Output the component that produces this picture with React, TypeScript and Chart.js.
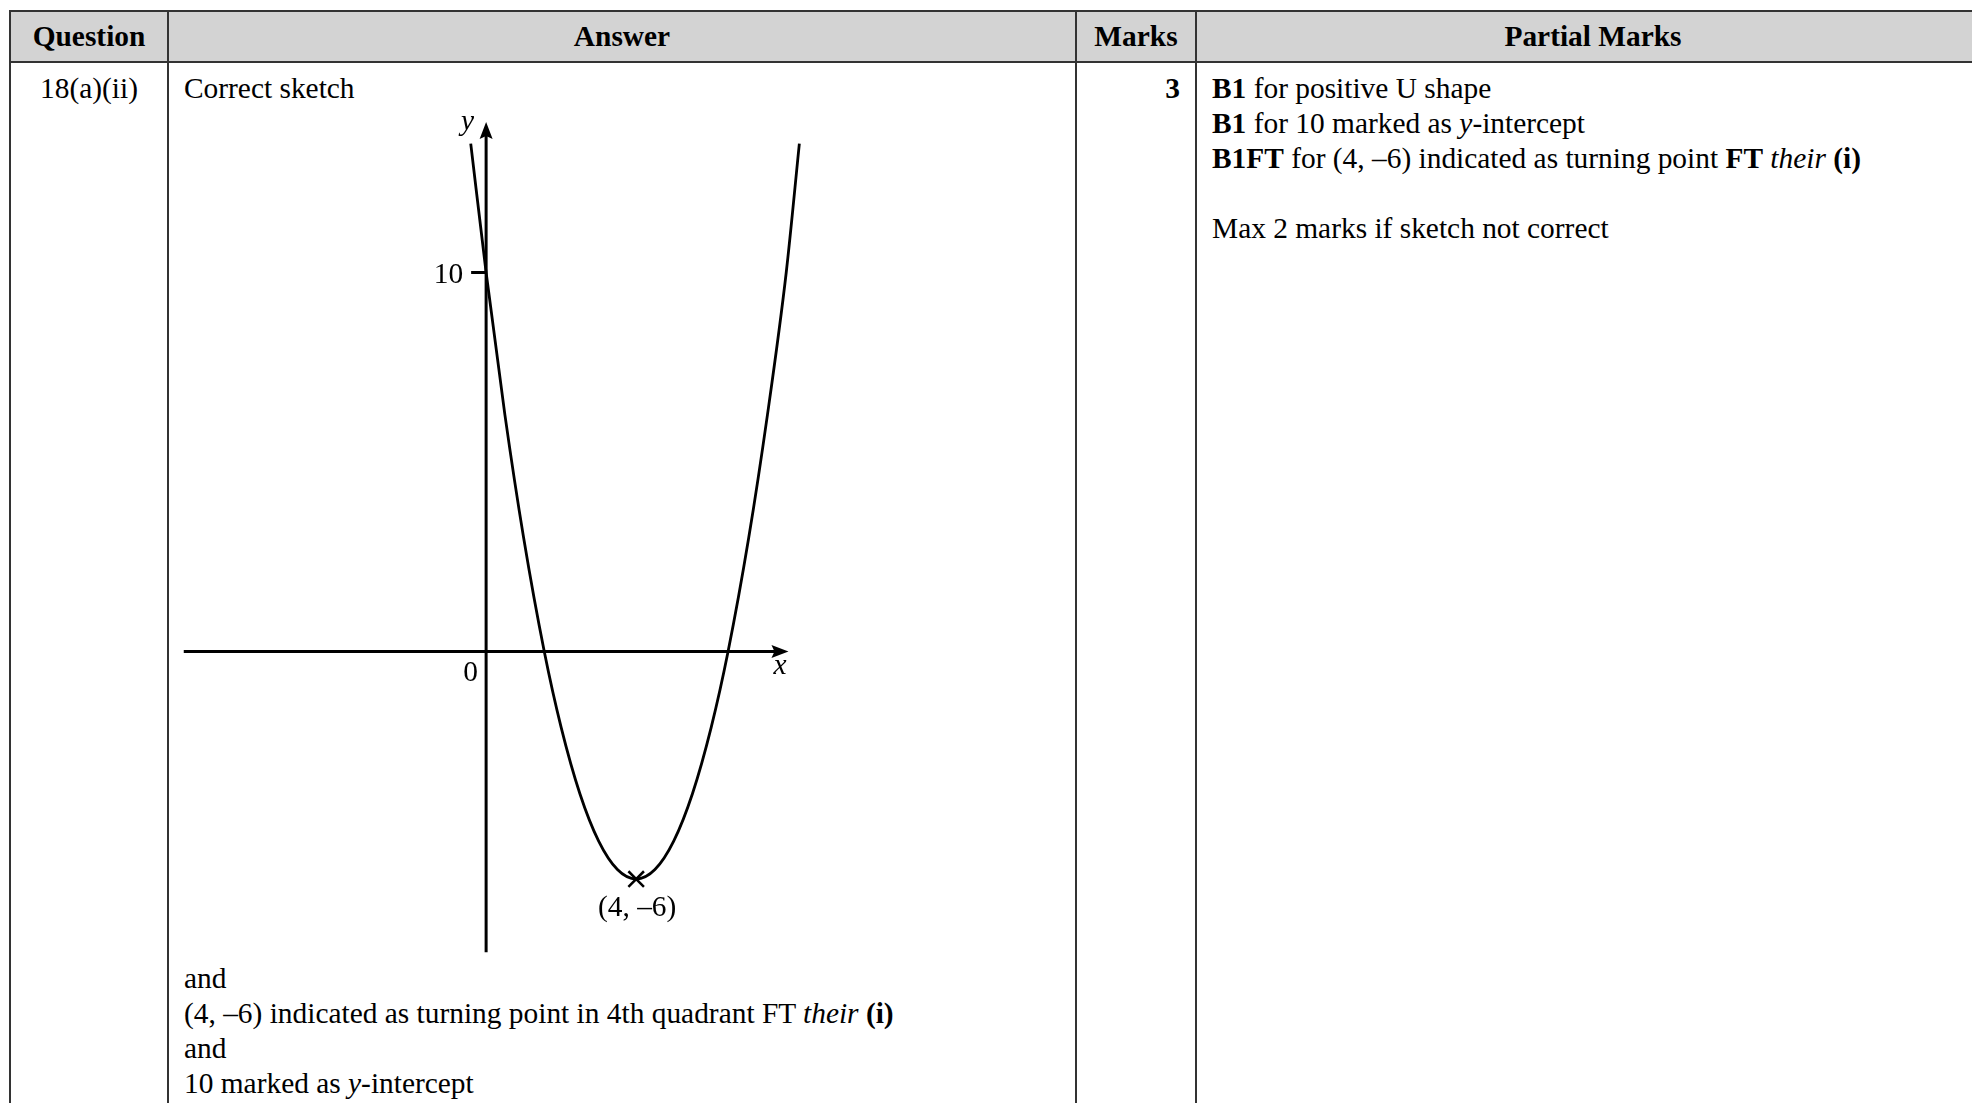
import React, { useEffect, useRef } from "react";
import { Chart, registerables } from "chart.js";

Chart.register(...registerables);

// ---- data ----
const curveX = [-0.41, 0, 0.5, 1, 1.55, 2, 2.5, 3, 3.5, 4, 4.5, 5, 5.5, 6, 6.45, 7, 7.5, 8, 8.35];
const curveY = [13.4, 10, 6.25, 3, 0, -2, -3.75, -5, -5.75, -6, -5.75, -5, -3.75, -2, 0, 3, 6.25, 10, 13.4];
const xAxisEnds = [-8.06, 8.06];
const yAxisEnds = [-7.93, 13.97];
const yTickValues = [10];
const yTickLabels = ["10"];
const turningPoint = [4, -6];
const turningLabel = "(4, –6)";
const originLabel = "0";
const xAxisName = "x";
const yAxisName = "y";
const viewX = [-8.4, 9.7];
const viewY = [-8.4, 14.55];

const headers = ["Question", "Answer", "Marks", "Partial Marks"];

const FONT = "'Liberation Serif', 'Times New Roman', serif";
const FONT_SIZE = 29.4;

function drawArrow(ctx: CanvasRenderingContext2D, tx: number, ty: number, dx: number, dy: number) {
  const len = 17;
  const half = 6.5;
  const notch = 3;
  const nx = -dy;
  const ny = dx;
  const bx = tx - dx * len;
  const by = ty - dy * len;
  ctx.beginPath();
  ctx.moveTo(tx, ty);
  ctx.lineTo(bx + nx * half, by + ny * half);
  ctx.lineTo(bx + dx * notch, by + dy * notch);
  ctx.lineTo(bx - nx * half, by - ny * half);
  ctx.closePath();
  ctx.fill();
}

const overlayPlugin = {
  id: "sketchOverlay",
  afterDatasetsDraw(chart: any) {
    const ctx: CanvasRenderingContext2D = chart.ctx;
    const xs = chart.scales.x;
    const ys = chart.scales.y;
    const px = (v: number) => xs.getPixelForValue(v);
    const py = (v: number) => ys.getPixelForValue(v);
    ctx.save();
    ctx.fillStyle = "#000";
    drawArrow(ctx, px(xAxisEnds[1]), py(0), 1, 0);
    drawArrow(ctx, px(0), py(yAxisEnds[1]), 0, -1);

    ctx.font = `${FONT_SIZE}px ${FONT}`;
    ctx.textBaseline = "alphabetic";
    ctx.textAlign = "right";
    yTickValues.forEach((v, i) => {
      ctx.fillText(yTickLabels[i], px(0) - 23, py(v) + 11);
    });
    ctx.textAlign = "center";
    ctx.fillText(originLabel, px(0) - 15.5, py(0) + 29);
    ctx.fillText(turningLabel, px(turningPoint[0]) + 1, py(turningPoint[1]) + 37);

    ctx.font = `italic ${FONT_SIZE}px ${FONT}`;
    ctx.fillText(yAxisName, px(0) - 18.5, py(yAxisEnds[1]) + 8.5);
    ctx.fillText(xAxisName, px(xAxisEnds[1]) - 8.5, py(0) + 22);
    ctx.restore();
  },
};

function Sketch() {
  const ref = useRef<HTMLCanvasElement>(null);
  useEffect(() => {
    if (!ref.current) return;
    const black = "#000";
    const chart = new Chart(ref.current, {
      type: "scatter",
      data: {
        datasets: [
          {
            data: [
              { x: xAxisEnds[0], y: 0 },
              { x: xAxisEnds[1] - 0.3, y: 0 },
            ],
            showLine: true,
            borderColor: black,
            borderWidth: 3,
            pointRadius: 0,
            clip: false,
          } as any,
          {
            data: [
              { x: 0, y: yAxisEnds[0] },
              { x: 0, y: yAxisEnds[1] - 0.3 },
            ],
            showLine: true,
            borderColor: black,
            borderWidth: 3,
            pointRadius: 0,
            clip: false,
          } as any,
          {
            data: yTickValues.map((v) => [
              { x: -0.4, y: v },
              { x: 0, y: v },
            ]).flat(),
            showLine: true,
            borderColor: black,
            borderWidth: 3,
            pointRadius: 0,
            clip: false,
          } as any,
          {
            data: curveX.map((x, i) => ({ x, y: curveY[i] })),
            showLine: true,
            borderColor: black,
            borderWidth: 2.8,
            pointRadius: 0,
            cubicInterpolationMode: "monotone",
            clip: false,
          } as any,
          {
            data: [{ x: turningPoint[0], y: turningPoint[1] }],
            showLine: false,
            pointStyle: "crossRot",
            pointRadius: 11,
            borderColor: black,
            borderWidth: 2.5,
            clip: false,
          } as any,
        ],
      },
      options: {
        responsive: false,
        maintainAspectRatio: false,
        animation: false,
        events: [],
        layout: { padding: 0, autoPadding: false },
        plugins: {
          legend: { display: false },
          tooltip: { enabled: false },
        },
        scales: {
          x: { type: "linear", min: viewX[0], max: viewX[1], display: false },
          y: { type: "linear", min: viewY[0], max: viewY[1], display: false },
        },
      },
      plugins: [overlayPlugin],
    } as any);
    return () => chart.destroy();
  }, []);
  return (
    <canvas
      ref={ref}
      width={679}
      height={870}
      style={{ position: "absolute", left: 171, top: 100, width: 679, height: 870 }}
    />
  );
}

const lineColor = "#333";

export default function App() {
  const abs = (s: React.CSSProperties): React.CSSProperties => ({ position: "absolute", ...s });
  const lineStyle: React.CSSProperties = { lineHeight: "35px", whiteSpace: "nowrap" };
  const colCenters = [89, 622, 1136, 1593];
  return (
    <div
      style={{
        position: "absolute",
        left: 0,
        top: 0,
        width: 1972,
        height: 1103,
        overflow: "hidden",
        background: "#fff",
        fontFamily: FONT,
        fontSize: FONT_SIZE,
        color: "#000",
      }}
    >
      {/* header background */}
      <div style={abs({ left: 10, top: 12, width: 2000, height: 49, background: "#d3d3d3" })} />
      {/* horizontal lines */}
      <div style={abs({ left: 9, top: 10, width: 2000, height: 2, background: lineColor })} />
      <div style={abs({ left: 9, top: 61, width: 2000, height: 2, background: lineColor })} />
      {/* vertical lines */}
      {[9, 167, 1075, 1195].map((x) => (
        <div key={x} style={abs({ left: x, top: 10, width: 2, height: 1100, background: lineColor })} />
      ))}
      {/* headers */}
      {headers.map((h, i) => (
        <div
          key={h}
          style={abs({
            left: colCenters[i] - 300,
            width: 600,
            top: 12,
            height: 49,
            lineHeight: "49px",
            textAlign: "center",
            fontWeight: "bold",
          })}
        >
          {h}
        </div>
      ))}
      {/* question */}
      <div style={abs({ left: colCenters[0] - 100, width: 200, top: 71, textAlign: "center", ...lineStyle })}>
        18(a)(ii)
      </div>
      {/* answer */}
      <div style={abs({ left: 184, top: 71, ...lineStyle })}>Correct sketch</div>
      <div style={abs({ left: 184, top: 961, ...lineStyle })}>
        <div>and</div>
        <div>
          (4, –6) indicated as turning point in 4th quadrant FT <i>their</i> <b>(i)</b>
        </div>
        <div>and</div>
        <div>
          10 marked as <i>y</i>-intercept
        </div>
      </div>
      {/* marks */}
      <div style={abs({ left: 1080, width: 100, top: 71, textAlign: "right", fontWeight: "bold", ...lineStyle })}>3</div>
      {/* partial marks */}
      <div style={abs({ left: 1212, top: 71, ...lineStyle })}>
        <div>
          <b>B1</b> for positive U shape
        </div>
        <div>
          <b>B1</b> for 10 marked as <i>y</i>-intercept
        </div>
        <div>
          <b>B1FT</b> for (4, –6) indicated as turning point <b>FT</b> <i>their</i> <b>(i)</b>
        </div>
        <div>&nbsp;</div>
        <div>Max 2 marks if sketch not correct</div>
      </div>
      <Sketch />
    </div>
  );
}
